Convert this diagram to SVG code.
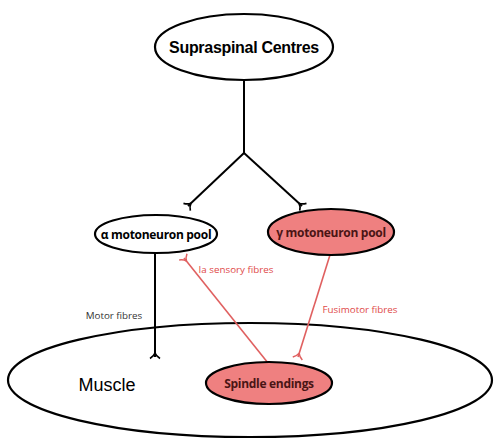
<svg xmlns="http://www.w3.org/2000/svg" width="495" height="439" viewBox="0 0 495 439">
<style>
.node{stroke:#000;stroke-width:2.2}
.white{fill:#fff}
.pink{fill:#ef8080}
.lbl{font-family:"Open Sans","DejaVu Sans",sans-serif;font-weight:bold;font-size:12px;letter-spacing:-0.3px;text-anchor:middle}
.dark{fill:#4a1515}
.blk{stroke:#000;stroke-width:2;fill:none}
.red{stroke:#e06060;stroke-width:1.6;fill:none}
.small{font-family:"Open Sans","DejaVu Sans",sans-serif;font-size:9.8px;text-anchor:middle}
</style>
<defs>
<marker id="forkB" viewBox="-7 -7 14 14" markerWidth="14" markerHeight="14" markerUnits="userSpaceOnUse" orient="auto" refX="0" refY="0">
<path d="M-4,0 Q-1,-1 1.5,-5 M-4,0 Q-1,1 1.5,5" stroke="#000" stroke-width="1.7" fill="none"/>
</marker>
<marker id="forkR" viewBox="-7 -7 14 14" markerWidth="14" markerHeight="14" markerUnits="userSpaceOnUse" orient="auto" refX="0" refY="0">
<path d="M-4,0 Q-1,-1 1.5,-5 M-4,0 Q-1,1 1.5,5" stroke="#e06060" stroke-width="1.5" fill="none"/>
</marker>
</defs>
<rect width="495" height="439" fill="#fff"/>
<g id="muscle">
<ellipse class="node white" cx="250" cy="380" rx="242" ry="57"/>
<text x="107" y="391" font-family="Liberation Sans, Arial, sans-serif" font-size="18" text-anchor="middle" fill="#000">Muscle</text>
</g>
<g id="connectors">
<path class="blk" d="M244,80 V153"/>
<path class="blk" d="M244,153 L188,206" marker-end="url(#forkB)"/>
<path class="blk" d="M244,153 L302,206" marker-end="url(#forkB)"/>
<path class="blk" d="M155,253 V357" marker-end="url(#forkB)"/>
<path class="red" d="M268,363 L184,258" marker-end="url(#forkR)"/>
<path class="red" d="M330,255 L298,357" marker-end="url(#forkR)"/>
<text class="small" x="114" y="319" fill="#333">Motor fibres</text>
<text class="small" x="236" y="273" fill="#e04848">Ia sensory fibres</text>
<text class="small" x="360" y="313" fill="#e04848">Fusimotor fibres</text>
</g>
<g id="supraspinal">
<ellipse class="node white" cx="244" cy="47" rx="89" ry="33"/>
<text x="244" y="53" font-family="Liberation Sans, Arial, sans-serif" font-weight="bold" font-size="16" text-anchor="middle" letter-spacing="-0.3" fill="#000">Supraspinal Centres</text>
</g>
<g id="alpha">
<ellipse class="node white" cx="156" cy="234" rx="61" ry="19"/>
<text class="lbl" x="156" y="238.5" fill="#000">α motoneuron pool</text>
</g>
<g id="gamma">
<ellipse class="node pink" cx="331" cy="232" rx="63" ry="23"/>
<text class="lbl dark" x="331" y="236.5">γ motoneuron pool</text>
</g>
<g id="spindle">
<ellipse class="node pink" cx="269" cy="383" rx="63" ry="21"/>
<text class="lbl dark" x="269" y="387.5">Spindle endings</text>
</g>
</svg>
